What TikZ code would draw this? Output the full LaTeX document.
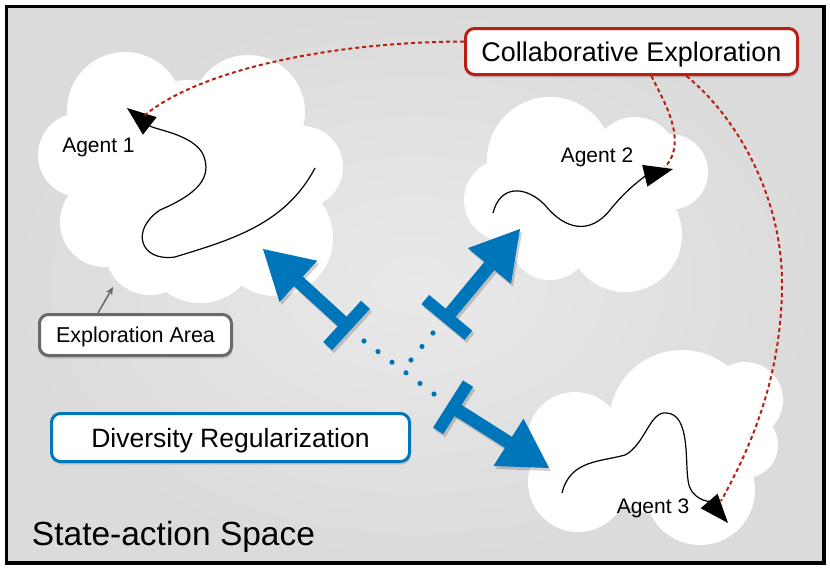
\documentclass[tikz,border=0pt]{standalone}
\usepackage{fontspec}
\setmainfont{Liberation Sans}
\usetikzlibrary{arrows.meta,calc,shadows}
\definecolor{divblue}{RGB}{0,118,186}
\definecolor{collred}{RGB}{185,32,18}
\definecolor{areagray}{RGB}{105,105,105}
\definecolor{bgin}{RGB}{233,233,233}
\definecolor{bgout}{RGB}{219,219,219}
\begin{document}
\begin{tikzpicture}[x=1pt,y=-1pt,
  tagbox/.style={draw,fill=white,line width=3pt,rounded corners=9pt,text depth=0pt,
    drop shadow={opacity=0.3,shadow xshift=1pt,shadow yshift=-3pt}},
  agent/.style={font=\fontsize{21}{25}\selectfont,anchor=base},
  trail/.style={line width=1.2pt,-{Triangle[length=29pt,width=22pt]}},
  explore/.style={collred,line width=2pt,dash pattern=on 4pt off 3pt},
  divarrow/.style={divblue,line width=13pt,{Bar[width=56pt,line width=12pt]}-{Triangle[length=48pt,width=56pt,line width=0pt]}}]
  \useasboundingbox (0,0) rectangle (830,571);
  % state-action space
  \shade[inner color=bgin,outer color=bgout] (6.5,6.5) rectangle (824,563);
  \draw[line width=3.5pt] (6.5,6.5) rectangle (824,563);
  % exploration areas (clouds)
  \fill[white] (125,110) circle[radius=58pt] (248,112) circle[radius=57pt] (80,155) circle[radius=42pt]
    (302,167) circle[radius=41pt] (105,222) circle[radius=45pt] (275,238) circle[radius=58pt]
    (200,245) circle[radius=58pt] (150,250) circle[radius=45pt] (190,170) circle[radius=90pt];
  \fill[white] (550,160) circle[radius=63pt] (635,160) circle[radius=43pt] (670,172) circle[radius=38pt]
    (505,200) circle[radius=41pt] (550,240) circle[radius=40pt] (625,235) circle[radius=57pt]
    (585,200) circle[radius=60pt];
  \fill[white] (682,423) circle[radius=73pt] (575,440) circle[radius=48pt] (745,400) circle[radius=38pt]
    (745,445) circle[radius=33pt] (578,482) circle[radius=50pt] (700,490) circle[radius=55pt]
    (660,455) circle[radius=60pt];
  % labels
  \node[agent] (ag1) at (98.5,152) {Agent 1};
  \node[agent] (ag2) at (597,162) {Agent 2};
  \node[agent] (ag3) at (653,513) {Agent 3};
  \node[font=\fontsize{33.5}{40}\selectfont,anchor=base] (space) at (173.5,545) {State-action Space};
  \node[tagbox,draw=collred,minimum width=332pt,minimum height=46pt,text height=19.3pt,font=\fontsize{27}{32}\selectfont]
    (collab) at (631.5,51.5) {Collaborative Exploration};
  \node[tagbox,draw=divblue,minimum width=358pt,minimum height=48pt,text height=19pt,font=\fontsize{26.5}{32}\selectfont]
    (divreg) at (230.5,437.5) {Diversity Regularization};
  \node[tagbox,draw=areagray,minimum width=192pt,minimum height=41pt,text height=15.4pt,font=\fontsize{21.5}{26}\selectfont]
    (area) at (135.5,335) {Exploration Area};
  % trajectories
  \coordinate (a1tip) at (127,108);
  \coordinate (a2tip) at (673,169);
  \coordinate (a3tip) at (728,523);
  \draw[trail] (315,168) .. controls (285,225) and (230,240) .. (175,257)
    .. controls (140,262) and (130,230) .. (160,210) .. controls (195,195) and (210,180) .. (205,160)
    .. controls (200,135) and (155,130) .. (a1tip);
  \draw[trail] (493,213) .. controls (500,185) and (525,185) .. (545,205)
    .. controls (565,230) and (590,235) .. (610,210) .. controls (630,185) and (648,175) .. (a2tip);
  \draw[trail] (562,493) .. controls (570,460) and (600,462) .. (625,455)
    .. controls (645,445) and (650,410) .. (667,413) .. controls (690,415) and (685,460) .. (688,480)
    .. controls (690,500) and (710,502) .. (a3tip);
  % collaborative exploration links
  \coordinate (r1end) at (145,115);
  \coordinate (r2end) at (665,167);
  \coordinate (r3end) at (721,501);
  \draw[explore] ([yshift=10pt]collab.west) .. controls (330,42) and (200,70) .. (r1end);
  \draw[explore] ([xshift=20pt]collab.south) .. controls (660,95) and (690,140) .. (r2end);
  \draw[explore] ([xshift=55pt]collab.south) .. controls (740,120) and (782,200) .. (782,283)
    .. controls (782,370) and (755,440) .. (r3end);
  % exploration area pointer
  \coordinate (c1edge) at (113,287);
  \draw[areagray,line width=1.5pt,-{Stealth[length=8pt,width=7pt]}] ([xshift=-37.5pt]area.north) -- (c1edge);
  % diversity regularization
  \coordinate (d1base) at (351,329.5);
  \coordinate (d1tip) at (263,249);
  \coordinate (d2base) at (443,322);
  \coordinate (d2tip) at (520,229);
  \coordinate (d3base) at (448,404);
  \coordinate (d3tip) at (549,468);
  \foreach \b/\t in {d1base/d1tip,d2base/d2tip,d3base/d3tip} {
    \draw[divarrow,draw=black,fill=black,opacity=0.18,transform canvas={xshift=2pt,yshift=-3pt}] (\b) -- (\t);
    \draw[divarrow] (\b) -- (\t);
  }
  \coordinate (dotA) at (364,341);
  \coordinate (dotB) at (434,394);
  \coordinate (dotC) at (433,333);
  \coordinate (dotD) at (411,360);
  \foreach \i in {0,...,5}
    \fill[divblue] ($(dotA)!\i/5!(dotB)$) circle[radius=2.6pt];
  \foreach \i in {0,1,2}
    \fill[divblue] ($(dotC)!\i/2!(dotD)$) circle[radius=2.6pt];
\end{tikzpicture}
\end{document}
